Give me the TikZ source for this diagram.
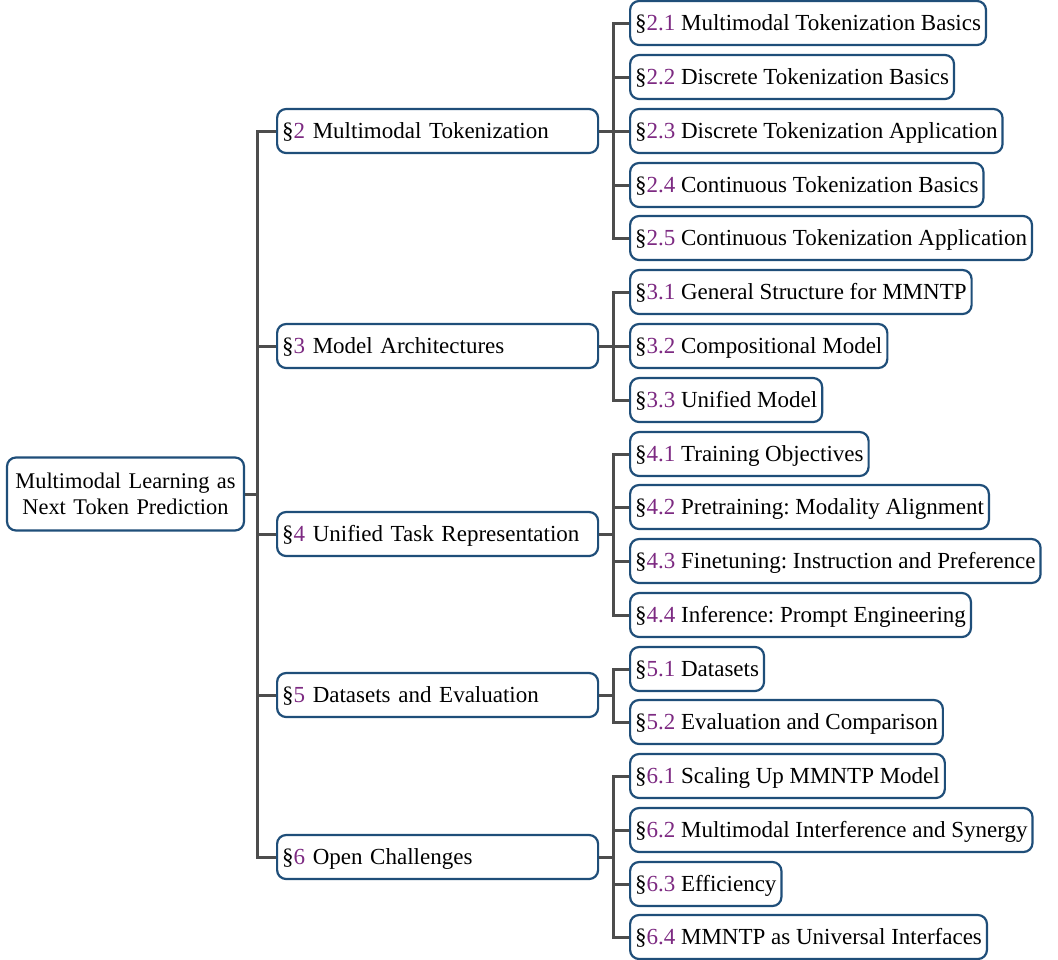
\documentclass[tikz,border=0pt]{standalone}
\usepackage{fontspec}
\setmainfont{Liberation Serif}
\definecolor{boxblue}{HTML}{1F4E79}
\definecolor{secnum}{HTML}{7D2A82}
\definecolor{linegray}{HTML}{4D4D4D}
\newcommand\sx[2]{§\textcolor{secnum}{#1} #2}
\newcommand\sxw[2]{\makebox[\linewidth][l]{§\textcolor{secnum}{#1} #2}}
\begin{document}
\begin{tikzpicture}[x=1pt,y=-1pt,
  font=\fontsize{23}{27}\selectfont\frenchspacing,
  box/.style={draw=boxblue, line width=2.2pt, rounded corners=9pt, fill=white,
    inner xsep=5pt, inner ysep=0pt, minimum height=44pt, text height=17.5pt, text depth=2pt},
  lvtwo/.style={box, anchor=west},
  lvone/.style={box, anchor=west, text width=311pt, align=left},
  conn/.style={draw=linegray, line width=3pt}]
\useasboundingbox (0,0) rectangle (1058,959);

\node[box, anchor=center, text width=227pt, align=center, minimum height=73pt, text height=, text depth=, inner ysep=4pt, font=\fontsize{22.4}{26}\selectfont] (root) at (125.5,494) {Multimodal Learning as\\Next Token Prediction};

\node[lvone] (s2) at (276,131) {\sxw{2}{Multimodal Tokenization}};
\node[lvone] (s3) at (276,346) {\sxw{3}{Model Architectures}};
\node[lvone] (s4) at (276,534) {\sxw{4}{Unified Task Representation}};
\node[lvone] (s5) at (276,695) {\sxw{5}{Datasets and Evaluation}};
\node[lvone] (s6) at (276,857) {\sxw{6}{Open Challenges}};

\node[lvtwo] (s21) at (629,23) {\sx{2.1}{Multimodal Tokenization Basics}};
\node[lvtwo] (s22) at (629,77) {\sx{2.2}{Discrete Tokenization Basics}};
\node[lvtwo] (s23) at (629,131) {\sx{2.3}{Discrete Tokenization Application}};
\node[lvtwo] (s24) at (629,185) {\sx{2.4}{Continuous Tokenization Basics}};
\node[lvtwo] (s25) at (629,238) {\sx{2.5}{Continuous Tokenization Application}};
\node[lvtwo] (s31) at (629,292) {\sx{3.1}{General Structure for MMNTP}};
\node[lvtwo] (s32) at (629,346) {\sx{3.2}{Compositional Model}};
\node[lvtwo] (s33) at (629,400) {\sx{3.3}{Unified Model}};
\node[lvtwo] (s41) at (629,454) {\sx{4.1}{Training Objectives}};
\node[lvtwo] (s42) at (629,507) {\sx{4.2}{Pretraining: Modality Alignment}};
\node[lvtwo] (s43) at (629,561) {\sx{4.3}{Finetuning: Instruction and Preference}};
\node[lvtwo] (s44) at (629,615) {\sx{4.4}{Inference: Prompt Engineering}};
\node[lvtwo] (s51) at (629,669) {\sx{5.1}{Datasets}};
\node[lvtwo] (s52) at (629,722) {\sx{5.2}{Evaluation and Comparison}};
\node[lvtwo] (s61) at (629,776) {\sx{6.1}{Scaling Up MMNTP Model}};
\node[lvtwo] (s62) at (629,830) {\sx{6.2}{Multimodal Interference and Synergy}};
\node[lvtwo] (s63) at (629,884) {\sx{6.3}{Efficiency}};
\node[lvtwo] (s64) at (629,937) {\sx{6.4}{MMNTP as Universal Interfaces}};

\coordinate (J0) at (257,494);
\path[conn] (root.east) -- (J0);
\foreach \n in {s2,s3,s4,s5,s6} \path[conn] (\n.west) -| (J0);

\foreach \p/\kids in {s2/{s21,s22,s23,s24,s25}, s3/{s31,s32,s33}, s4/{s41,s42,s43,s44}, s5/{s51,s52}, s6/{s61,s62,s63,s64}} {
  \coordinate (J\p) at ([xshift=14pt]\p.east);
  \path[conn] (\p.east) -- (J\p);
  \foreach \k in \kids \path[conn] (\k.west) -| (J\p);
}
\end{tikzpicture}
\end{document}
